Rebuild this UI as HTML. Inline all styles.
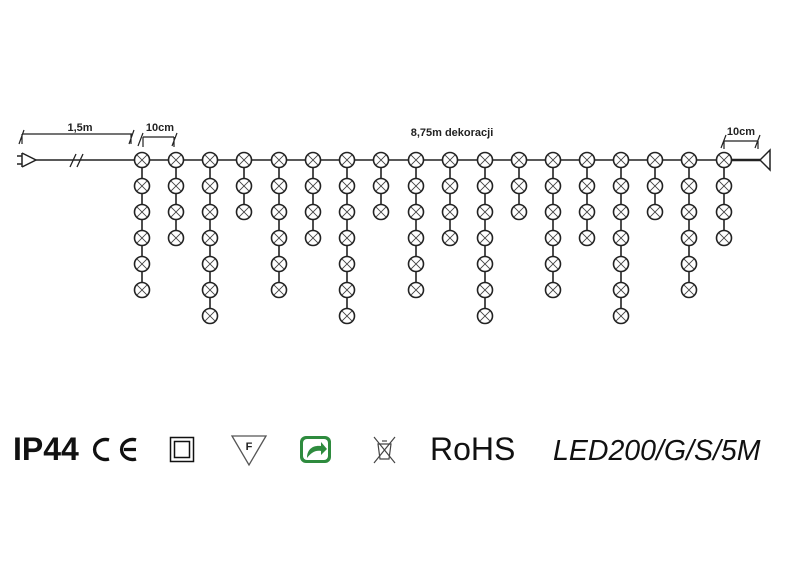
<!DOCTYPE html>
<html><head><meta charset="utf-8"><style>
html,body{margin:0;padding:0;background:#fff;width:800px;height:570px;overflow:hidden}
svg{display:block}
text{font-family:"Liberation Sans",sans-serif}
</style></head><body>
<svg width="800" height="570" viewBox="0 0 800 570" xmlns="http://www.w3.org/2000/svg" xmlns:xlink="http://www.w3.org/1999/xlink">
<defs>
<g id="b"><circle r="7.5" fill="#fff" stroke="#222" stroke-width="1.6"/><path d="M-5.2,-5.2L5.2,5.2M5.2,-5.2L-5.2,5.2" stroke="#444" stroke-width="0.9"/></g>
<g id="c3"><use href="#b" xlink:href="#b" y="160"/><use href="#b" xlink:href="#b" y="186"/><use href="#b" xlink:href="#b" y="212"/></g>
<g id="c4"><use href="#c3" xlink:href="#c3"/><use href="#b" xlink:href="#b" y="238"/></g>
<g id="c6"><use href="#c4" xlink:href="#c4"/><use href="#b" xlink:href="#b" y="264"/><use href="#b" xlink:href="#b" y="290"/></g>
<g id="c7"><use href="#c6" xlink:href="#c6"/><use href="#b" xlink:href="#b" y="316"/></g>
</defs>
<g stroke="#222" stroke-width="1.5" fill="none">
<path d="M22,153v14M22,156h-5M22,164h-5M22,153l14,7l-14,7"/>
<line x1="36" y1="160" x2="134" y2="160"/>
<path d="M70,167l6,-13M77,167l6,-13" stroke-width="1.3"/>
<line x1="22" y1="134" x2="132" y2="134" stroke-width="1.2"/>
<path d="M19,144l5,-14M22,134v10M129,144l5,-14M131,134v10" stroke-width="1.2"/>
<line x1="143" y1="137" x2="174" y2="137" stroke-width="1.2"/>
<path d="M138,146l5,-13M143,137v10M172,146l5,-13M174,137v10" stroke-width="1.2"/>
<line x1="724" y1="141" x2="758" y2="141" stroke-width="1.2"/>
<path d="M721,148l5,-13M724,141v8M755,148l5,-13M758,141v8" stroke-width="1.2"/>
<line x1="134" y1="160" x2="731" y2="160"/>
<line x1="731" y1="160" x2="760" y2="160" stroke-width="2.5"/>
<path d="M770,150v20l-10,-10z"/>
</g>
<text x="80" y="131" font-size="11" font-weight="bold" fill="#222" text-anchor="middle">1,5m</text>
<text x="160" y="131" font-size="11" font-weight="bold" fill="#222" text-anchor="middle">10cm</text>
<text x="741" y="135" font-size="11" font-weight="bold" fill="#222" text-anchor="middle">10cm</text>
<text x="452" y="136" font-size="11" font-weight="bold" fill="#222" text-anchor="middle">8,75m dekoracji</text>
<g stroke="#222" stroke-width="1.6">
<line x1="142" y1="160" x2="142" y2="290"/><line x1="176" y1="160" x2="176" y2="238"/>
<line x1="210" y1="160" x2="210" y2="316"/><line x1="244" y1="160" x2="244" y2="212"/>
<line x1="279" y1="160" x2="279" y2="290"/><line x1="313" y1="160" x2="313" y2="238"/>
<line x1="347" y1="160" x2="347" y2="316"/><line x1="381" y1="160" x2="381" y2="212"/>
<line x1="416" y1="160" x2="416" y2="290"/><line x1="450" y1="160" x2="450" y2="238"/>
<line x1="485" y1="160" x2="485" y2="316"/><line x1="519" y1="160" x2="519" y2="212"/>
<line x1="553" y1="160" x2="553" y2="290"/><line x1="587" y1="160" x2="587" y2="238"/>
<line x1="621" y1="160" x2="621" y2="316"/><line x1="655" y1="160" x2="655" y2="212"/>
<line x1="689" y1="160" x2="689" y2="290"/><line x1="724" y1="160" x2="724" y2="238"/>
</g>
<use href="#c6" xlink:href="#c6" x="142"/>
<use href="#c4" xlink:href="#c4" x="176"/>
<use href="#c7" xlink:href="#c7" x="210"/>
<use href="#c3" xlink:href="#c3" x="244"/>
<use href="#c6" xlink:href="#c6" x="279"/>
<use href="#c4" xlink:href="#c4" x="313"/>
<use href="#c7" xlink:href="#c7" x="347"/>
<use href="#c3" xlink:href="#c3" x="381"/>
<use href="#c6" xlink:href="#c6" x="416"/>
<use href="#c4" xlink:href="#c4" x="450"/>
<use href="#c7" xlink:href="#c7" x="485"/>
<use href="#c3" xlink:href="#c3" x="519"/>
<use href="#c6" xlink:href="#c6" x="553"/>
<use href="#c4" xlink:href="#c4" x="587"/>
<use href="#c7" xlink:href="#c7" x="621"/>
<use href="#c3" xlink:href="#c3" x="655"/>
<use href="#c6" xlink:href="#c6" x="689"/>
<use href="#c4" xlink:href="#c4" x="724"/>
<text x="13" y="460" font-size="32" font-weight="bold" fill="#111">IP44</text>
<g fill="none" stroke="#111" stroke-width="3.3">
<path d="M109,440A11,10 0 1 0 109,459"/>
<path d="M136,440A11,10 0 1 0 136,459M124,449.5h12"/>
</g>
<rect x="170.5" y="437.5" width="23" height="24" fill="none" stroke="#111" stroke-width="1.5"/>
<rect x="174.5" y="441.5" width="15" height="16" fill="none" stroke="#111" stroke-width="1.5"/>
<path d="M232,436h34l-17,29z" fill="none" stroke="#555" stroke-width="1.3"/>
<text x="249" y="450" font-size="11" font-weight="bold" fill="#222" text-anchor="middle">F</text>
<rect x="300" y="436" width="31" height="27" rx="6" fill="#2e8b3e"/>
<rect x="303" y="439" width="25" height="21" rx="4" fill="#fff"/>
<path d="M307,458c0,-9 6,-13 14,-12v-4l6,7l-6,6v-4c-6,-1 -10,2 -14,7z" fill="#2e8b3e"/>
<g stroke="#444" stroke-width="1.2" fill="none">
<path d="M374,437l21,26M395,437l-21,26"/>
<path d="M378,444h13l-2,15h-9z"/><path d="M382,441h5"/>
</g>
<text x="430" y="460" font-size="32" fill="#111">RoHS</text>
<text x="553" y="460" font-size="28.5" font-style="italic" fill="#111">LED200/G/S/5M</text>
</svg>
</body></html>
